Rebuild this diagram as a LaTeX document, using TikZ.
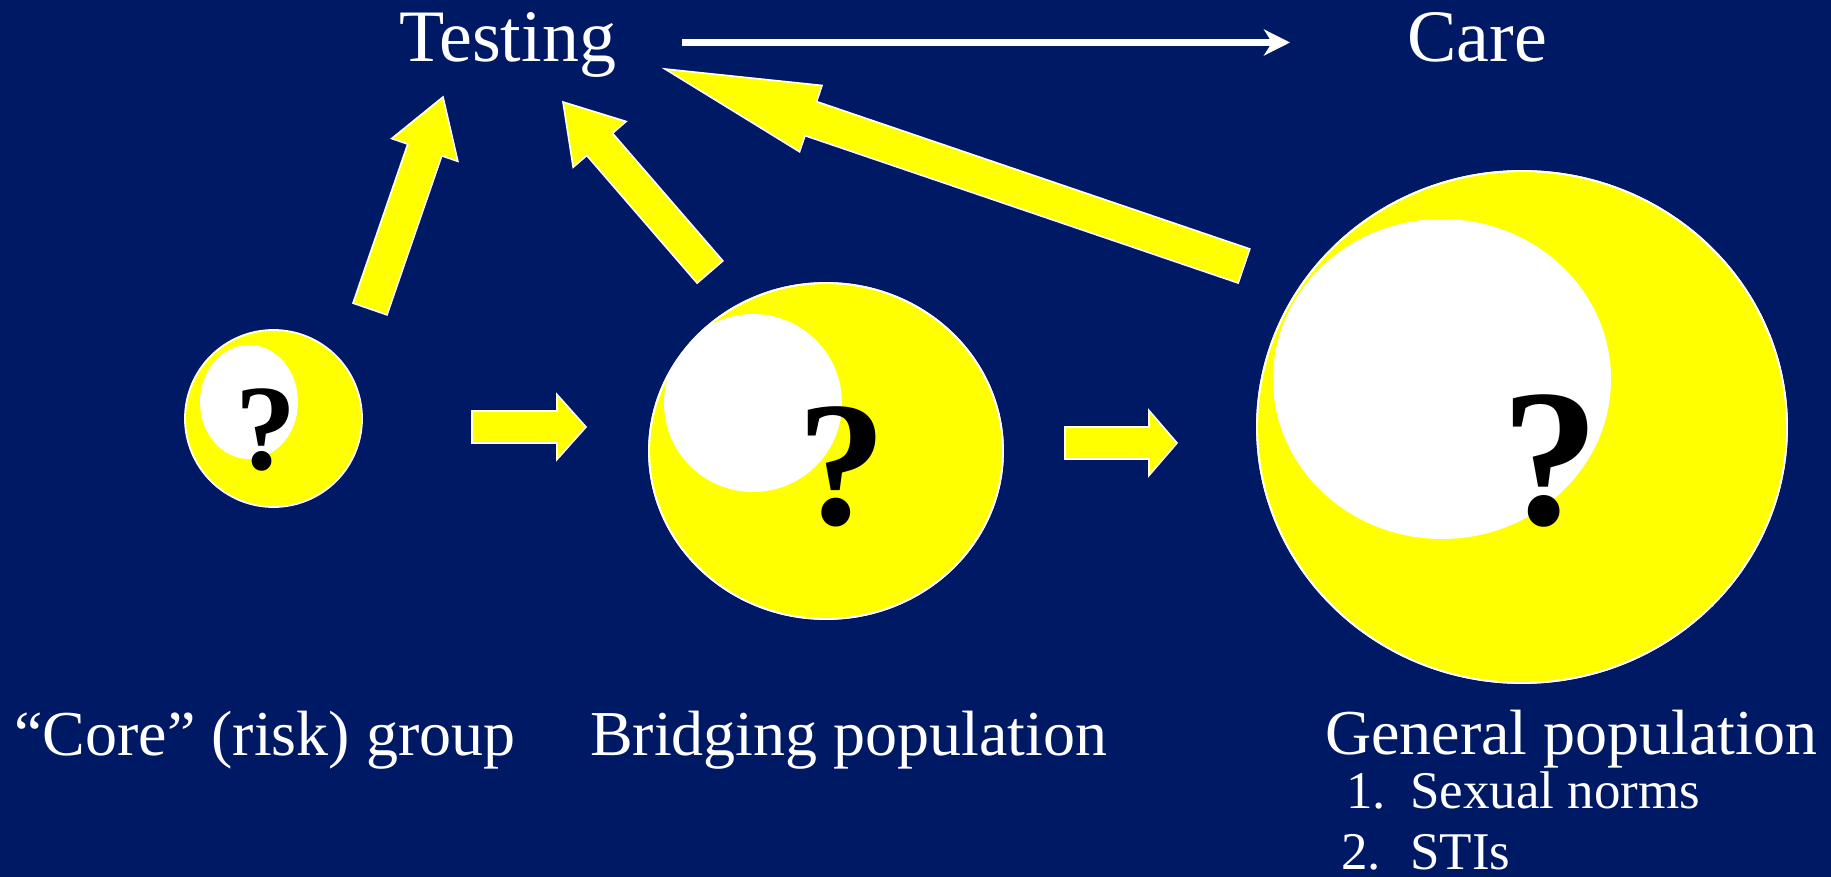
\documentclass[tikz,border=0pt]{standalone}
\usepackage{fontspec}
\setmainfont{Liberation Serif}
\usetikzlibrary{arrows.meta,calc,shapes.geometric}
\definecolor{navy}{RGB}{0,25,100}
\definecolor{yel}{RGB}{255,255,0}
\tikzset{
  lbl/.style={text=white, inner sep=0pt, anchor=base west},
  disc/.style={fill=yel, draw=white, line width=1.8pt, ellipse, inner sep=0pt},
  hole/.style={fill=white},
  qmark/.style={text=black, inner sep=0pt},
  blk/.style={fill=yel, draw=white, line width=1.6pt, line join=miter},
  flow/.style={draw=white, line width=7pt, -{Stealth[length=26pt,width=26pt,inset=8pt]}},
}
\newcommand\blockarrow[5]{%
  \path ($(#2)!#5!(#1)$) coordinate (ba);
  \filldraw[blk] ($(#1)!#3!90:(#2)$) -- ($(ba)!#3!90:(#2)$) -- ($(ba)!#4!90:(#2)$) -- (#2)
     -- ($(ba)!#4!-90:(#2)$) -- ($(ba)!#3!-90:(#2)$) -- ($(#1)!#3!-90:(#2)$) -- cycle;
}
\begin{document}
\begin{tikzpicture}[x=1pt,y=-1pt]
\useasboundingbox (0,0) rectangle (1831,877);
\fill[navy] (0,0) rectangle (1831,877);

% titles
\node[lbl, font=\fontsize{74}{74}\selectfont] (testing) at (399,62) {Testing};
\node[lbl, font=\fontsize{74}{74}\selectfont] (care) at (1407,62) {Care};
\coordinate (fs) at (682,42.5);
\coordinate (fe) at (1290,42.5);
\draw[flow] (fs) -- (fe);

% core group disc
\node[disc, minimum width=177pt, minimum height=177pt] (core) at (273.5,418.5) {};
\begin{scope}
  \clip (273.5,418.5) ellipse [x radius=88.5pt, y radius=88.5pt];
  \fill[hole] (249,402) ellipse [x radius=49pt, y radius=57pt];
\end{scope}
\node[qmark, font=\bfseries\fontsize{122}{122}\selectfont] (q1) at (266,430) {?};

% bridging disc
\node[disc, minimum width=354pt, minimum height=336pt] (bridge) at (826,451) {};
\begin{scope}
  \clip (826,451) ellipse [x radius=177pt, y radius=168pt];
  \fill[hole] (753,403) ellipse [x radius=89pt, y radius=89pt];
\end{scope}
\draw[white, line width=1.8pt] (826,451) ellipse [x radius=177pt, y radius=168pt];
\node[qmark, font=\bfseries\fontsize{178}{178}\selectfont] (q2) at (842,466.5) {?};

% general disc
\node[disc, minimum width=530pt, minimum height=512pt] (general) at (1522,427) {};
\begin{scope}
  \clip (1522,427) ellipse [x radius=265pt, y radius=256pt];
  \fill[hole] (1442,379) ellipse [x radius=169pt, y radius=160pt];
\end{scope}
\draw[white, line width=1.8pt] (1522,427) ellipse [x radius=265pt, y radius=256pt];
\node[qmark, font=\bfseries\fontsize{196}{196}\selectfont] (q3) at (1550,460.5) {?};

% block arrows to Testing
\coordinate (a1t) at (370,309);  \coordinate (a1h) at (443,97);
\coordinate (a2t) at (710,272);  \coordinate (a2h) at (563,102);
\coordinate (a3t) at (1244,266); \coordinate (a3h) at (665,69);
\blockarrow{a1t}{a1h}{18pt}{35pt}{56pt}
\blockarrow{a2t}{a2h}{17pt}{35pt}{56pt}
\blockarrow{a3t}{a3h}{18pt}{35pt}{154pt}

% horizontal block arrows
\coordinate (h1t) at (472,427);  \coordinate (h1h) at (586,427);
\coordinate (h2t) at (1065,443); \coordinate (h2h) at (1177,443);
\blockarrow{h1t}{h1h}{16pt}{32.5pt}{29pt}
\blockarrow{h2t}{h2h}{16pt}{32.5pt}{28pt}

% labels
\node[lbl, font=\fontsize{64}{64}\selectfont] (corelbl) at (14,755) {“Core” (risk) group};
\node[lbl, font=\fontsize{64}{64}\selectfont] (bridgelbl) at (590,755) {Bridging population};
\node[lbl, font=\fontsize{64}{64}\selectfont] (genlbl) at (1325,754) {General population};
\node[lbl, font=\fontsize{53}{53}\selectfont] (n1) at (1346,808) {1.};
\node[lbl, font=\fontsize{53}{53}\selectfont] (s1) at (1410,808) {Sexual norms};
\node[lbl, font=\fontsize{53}{53}\selectfont] (n2) at (1341,869) {2.};
\node[lbl, font=\fontsize{53}{53}\selectfont] (s2) at (1410,869) {STIs};
\end{tikzpicture}
\end{document}
